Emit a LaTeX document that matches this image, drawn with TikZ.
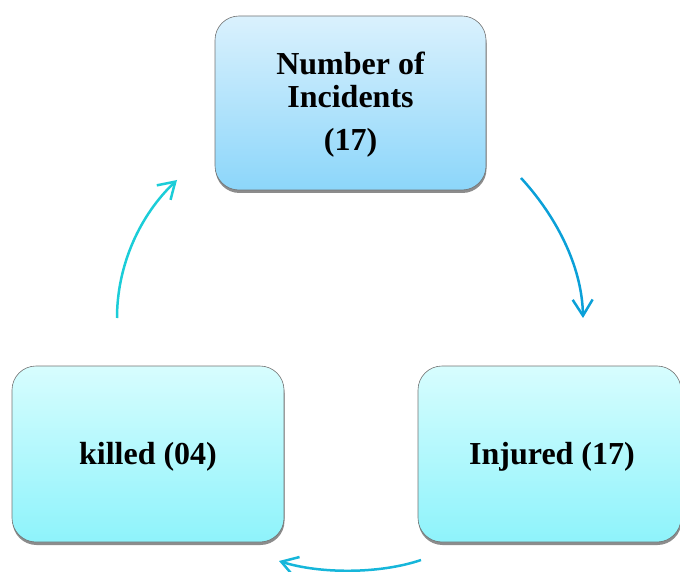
\documentclass[tikz,border=0pt]{standalone}
\usepackage{fontspec}
\setmainfont{Liberation Serif}
\usetikzlibrary{arrows.meta,shadows}
\definecolor{tA}{HTML}{DAF1FD}
\definecolor{tB}{HTML}{8CD6FA}
\definecolor{cA}{HTML}{D7FDFE}
\definecolor{cB}{HTML}{8EF3FB}
\definecolor{arA}{HTML}{0BA0D8}
\definecolor{arB}{HTML}{16B6DA}
\definecolor{arC}{HTML}{1BCDD8}
\tikzset{
  box/.style={draw=black!55, line width=0.6pt, rounded corners=24pt,
    drop shadow={shadow xshift=0.5pt,shadow yshift=-3pt,opacity=0.45,fill=black},
    font=\bfseries\fontsize{32}{33}\selectfont, align=center, inner sep=0pt},
  bluebox/.style={box, top color=tA, bottom color=tB},
  cyanbox/.style={box, top color=cA, bottom color=cB},
  cyc/.style={line width=2.5pt, -{Straight Barb[length=16pt,width=20pt,line width=2.5pt]}}
}
\begin{document}
\begin{tikzpicture}[x=1pt,y=-1pt]
\useasboundingbox (0,0) rectangle (680,572);
\node[bluebox, minimum width=271pt, minimum height=174pt] (num) at (350.5,103)
  {\raisebox{-2.5pt}[\height][\depth]{\begin{tabular}{@{}c@{}}Number of\\Incidents\\[10pt](17)\end{tabular}}};
\node[cyanbox, minimum width=272pt, minimum height=176pt] (kil) at (148,454) {\raisebox{-3pt}[\height][\depth]{killed (04)}};
\node[cyanbox, minimum width=263pt, minimum height=176pt] (inj) at (549.5,454) {\hspace*{5pt}\raisebox{-3pt}[\height][\depth]{Injured (17)}};
\coordinate (a1s) at (521,178);
\coordinate (a1e) at (583,318);
\coordinate (a2s) at (421,560);
\coordinate (a2e) at (279,561);
\coordinate (a3s) at (117,318);
\coordinate (a3e) at (177,180);
\draw[cyc, arA] (a1s) .. controls (555,215) and (582,265) .. (a1e);
\draw[cyc, arB] (a2s) .. controls (380,574) and (320,574) .. (a2e);
\draw[cyc, arC] (a3s) .. controls (117,265) and (140,215) .. (a3e);
\end{tikzpicture}
\end{document}
